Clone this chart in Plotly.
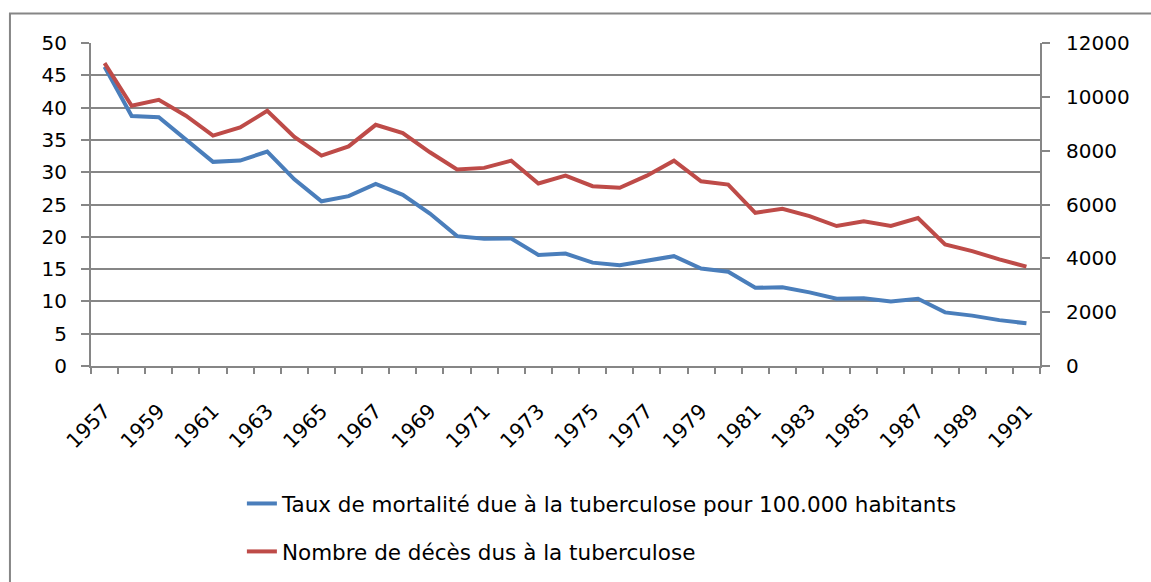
import plotly.graph_objects as go

years = list(range(1957, 1992))
taux = [46.3, 38.7, 38.5, 35.1, 31.6, 31.8, 33.2, 28.9, 25.5, 26.3,
        28.2, 26.5, 23.6, 20.1, 19.7, 19.75, 17.2, 17.4, 16.0, 15.6,
        16.25, 17.0, 15.1, 14.6, 12.1, 12.2, 11.4, 10.4, 10.5, 10.0,
        10.4, 8.3, 7.8, 7.1, 6.6]
deces = [11250, 9670, 9890, 9300, 8560, 8860, 9480, 8510, 7815, 8160,
         8960, 8650, 7940, 7300, 7360, 7630, 6780, 7070, 6680, 6620,
         7070, 7630, 6860, 6740, 5690, 5840, 5570, 5200, 5380, 5200,
         5500, 4520, 4270, 3960, 3690]
name_taux = "Taux de mortalité due à la tuberculose pour 100.000 habitants"
name_deces = "Nombre de décès dus à la tuberculose"
label_years = list(range(1957, 1992, 2))

FONT = "'DejaVu Sans', sans-serif"
GRAY = "#868686"

fig = go.Figure()
fig.add_trace(go.Scatter(x=years, y=taux, name=name_taux, mode="lines",
                         line=dict(color="#4A7EBB", width=4), legendgroup="a"))
fig.add_trace(go.Scatter(x=years, y=deces, name=name_deces, mode="lines",
                         line=dict(color="#BE4B48", width=4), yaxis="y2", legendgroup="b"))

fig.update_layout(
    width=1151, height=582,
    margin=dict(l=91, r=111, t=43, b=215),
    paper_bgcolor="white", plot_bgcolor="white",
    font=dict(family=FONT, size=20, color="black"),
    showlegend=True,
    legend=dict(x=0.159, xanchor="left", y=-0.358, yanchor="top",
                traceorder="grouped", tracegroupgap=17,
                font=dict(family=FONT, size=21.5, color="black"),
                bgcolor="rgba(0,0,0,0)"),
    xaxis=dict(range=[1956.5, 1991.5], tickmode="array", tickvals=label_years,
               ticktext=[str(y) for y in label_years], tickangle=-45,
               ticks="", showgrid=False, showline=True, linecolor=GRAY, linewidth=2,
               zeroline=False, automargin=False, ticklabelstandoff=23,
               minor=dict(tick0=1956.5, dtick=1, ticks="outside", ticklen=6,
                          tickwidth=2, tickcolor=GRAY, showgrid=False),
               tickfont=dict(family=FONT, size=20.5)),
    yaxis=dict(range=[0, 50], dtick=5, ticks="outside", ticklen=8, tickwidth=2,
               tickcolor=GRAY, showline=True, linecolor=GRAY, linewidth=2,
               showgrid=True, gridcolor=GRAY, gridwidth=1.5, zeroline=False,
               automargin=False, ticklabelstandoff=10,
               tickfont=dict(family=FONT, size=20)),
    yaxis2=dict(range=[0, 12000], dtick=2000, overlaying="y", side="right",
                ticks="outside", ticklen=8, tickwidth=2, tickcolor=GRAY,
                showline=True, linecolor=GRAY, linewidth=2, showgrid=False,
                zeroline=False, automargin=False, ticklabelstandoff=12,
                tickformat="d", tickfont=dict(family=FONT, size=20)),
    shapes=[dict(type="rect", xref="paper", yref="paper",
                 x0=-0.0854, x1=1.3, y0=-1.0, y1=1.091,
                 line=dict(color=GRAY, width=2), layer="above")],
)

fig.write_html("out.html", config={"displayModeBar": False},
               post_script="document.body.style.margin='0';")
